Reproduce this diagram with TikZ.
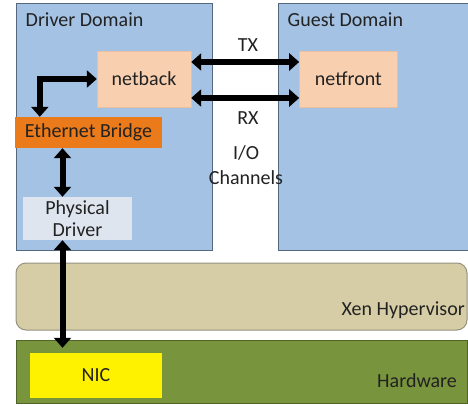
\documentclass[tikz,border=0pt]{standalone}
\usepackage{fontspec}
\setmainfont{Carlito}
\usepackage{tikz}
\usetikzlibrary{arrows.meta}
\usetikzlibrary{positioning}
\usepackage{xcolor}
\definecolor{domblue}{RGB}{163,194,228}
\definecolor{domline}{RGB}{86,104,128}
\definecolor{peach}{RGB}{248,208,176}
\definecolor{peachline}{RGB}{236,190,160}
\definecolor{bridge}{RGB}{234,122,26}
\definecolor{physgray}{RGB}{222,229,238}
\definecolor{xentan}{RGB}{214,205,166}
\definecolor{xenline}{RGB}{150,146,128}
\definecolor{hwgreen}{RGB}{120,148,60}
\definecolor{hwline}{RGB}{80,100,40}
\definecolor{txt}{RGB}{34,34,34}
\tikzset{>={Triangle[width=17pt,length=10pt]}}

\begin{document}
\begin{tikzpicture}[x=1pt, y=-1pt]
        % layer = big boxes, part = small boxes inside them
        \tikzstyle{every node}=[font=\fontsize{20}{22}\selectfont, text=txt, inner sep=0pt]
        \tikzstyle{layer}=[draw=domline, line width=1pt, minimum width=196pt, minimum height=246pt]
        \tikzstyle{part}=[minimum width=94pt, minimum height=56pt, align=center]
        \tikzstyle{link}=[<->, black, line width=6pt]

        \useasboundingbox (0,0) rectangle (468,406);
        \fill[white] (0,0) rectangle (468,406);

        \node[layer, fill=domblue] (D) at (114,127) {};
        \node[layer, fill=domblue, minimum width=200pt] (G) at (378,127) {};
        \node[layer, fill=xentan, draw=xenline, rounded corners=10pt,
                minimum width=451pt, minimum height=67pt] (X) at (241.5,296.5) {};
        \node[layer, fill=hwgreen, draw=hwline,
                minimum width=451pt, minimum height=63pt] (H) at (241.5,371.5) {};

        \node[anchor=north west] (DL) at ([xshift=10pt,yshift=-9pt]D.north west) {Driver Domain};
        \node[anchor=north west] (GL) at ([xshift=10pt,yshift=-9pt]G.north west) {Guest Domain};
        \node[anchor=east] (XL) at (465,310) {Xen Hypervisor};
        \node[anchor=east] (HL) at (457,381) {Hardware};

        \node[part, fill=peach, draw=peachline] (B) at (144,79) {netback};
        \node[part, fill=peach, draw=peachline, minimum width=98pt, right=108pt of B] (F) {netfront};
        \node[part, fill=bridge, minimum width=147pt, minimum height=31pt] (E) at (88.5,132.5) {Ethernet Bridge};
        \node[part, fill=physgray, minimum width=109pt, minimum height=43pt] (P) at (77.5,218.5) {Physical\\Driver};
        \node[part, fill=yellow, minimum width=132pt, minimum height=45pt] (N) at (96,375.5) {NIC};

        \node (TX) at (248,45) {TX};
        \node (RX) at (248,118) {RX};
        \node[align=center, font=\fontsize{20}{25}\selectfont] (IO) at (246,165) {I/O\\Channels};

        \draw[link] ([yshift=17pt]B.east) -- ([yshift=17pt]F.west);
        \draw[link] ([yshift=-19pt]B.east) -- ([yshift=-19pt]F.west);
        \draw[link] (B.west) -| ([xshift=25pt]E.north west);
        \draw[link] ([xshift=-15pt]P.north |- E.south) -- ([xshift=-15pt]P.north);
        \draw[link] ([xshift=-15pt]P.south) -- ([xshift=-15pt,yshift=5pt]P.south |- N.north);

\end{tikzpicture}
\end{document}
